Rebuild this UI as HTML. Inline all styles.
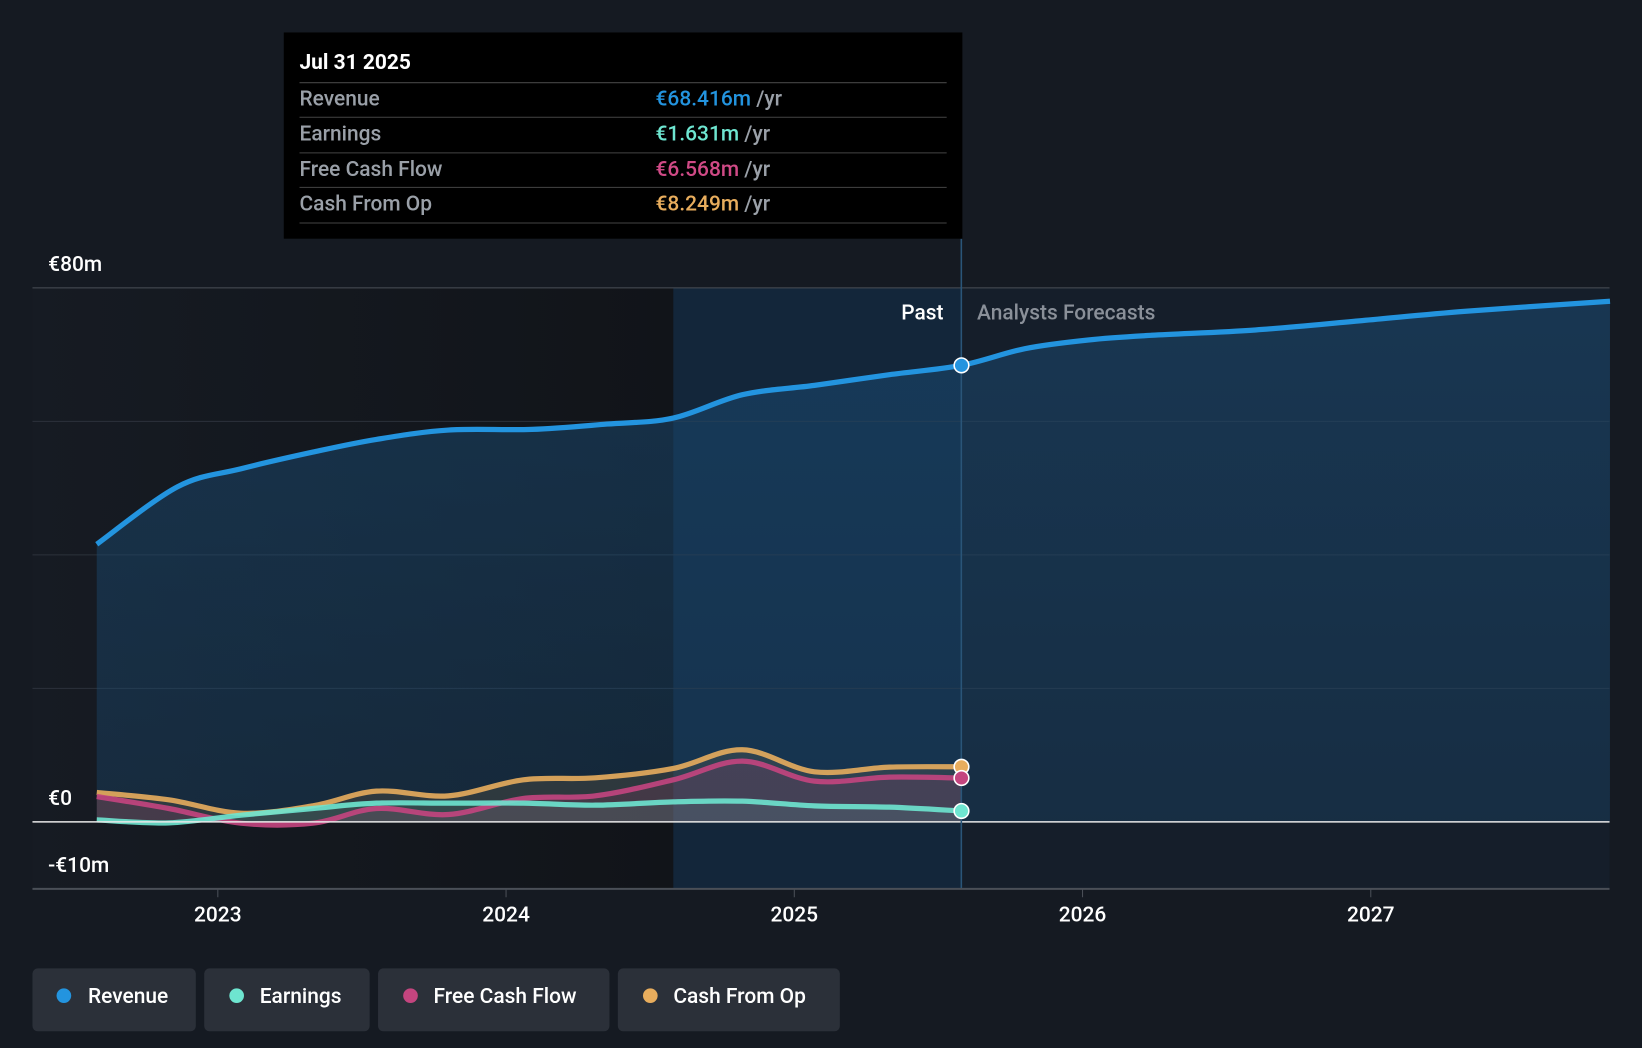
<!DOCTYPE html>
<html><head><meta charset="utf-8">
<style>
html,body{margin:0;padding:0;background:#151a22;}
svg{display:block;font-family:"Roboto","Liberation Sans",sans-serif;}
</style></head>
<body>
<svg id="chart" width="1642" height="1048" viewBox="0 0 1568 1001" preserveAspectRatio="none" xmlns="http://www.w3.org/2000/svg">
<rect x="0" y="0" width="1568" height="1001" fill="#151a22"/>
<defs>
<linearGradient id="pastBg" x1="0" x2="1" y1="0" y2="0"><stop offset="0" stop-color="#161b23"/><stop offset="1" stop-color="#111419"/></linearGradient>
<linearGradient id="revFill" x1="0" x2="0" y1="0" y2="1"><stop offset="0" stop-color="#1a4a72" stop-opacity="0.55"/><stop offset="1" stop-color="#1a4a72" stop-opacity="0.35"/></linearGradient>
</defs>
<rect x="31" y="275" width="612" height="574" fill="url(#pastBg)"/>
<rect x="643" y="275" width="275" height="574" fill="#13263a"/>
<rect x="918" y="275" width="619" height="574" fill="#151e2a"/>
<g id="grid"></g>
<g id="areas"></g>
<g id="lines"></g>
<line x1="918" y1="228" x2="918" y2="849" stroke="#2a5578" stroke-width="1.5"/>
<text x="901" y="305" fill="#ffffff" font-size="20" text-anchor="end" font-weight="500">Past</text>
<text x="933" y="305" fill="#8a9099" font-size="20" font-weight="500">Analysts Forecasts</text>
<g id="dots"></g>
<g id="xaxis"></g>
<g font-weight="500">
<rect x="271" y="31" width="648" height="197" fill="#000000"/>
<text x="286" y="66" fill="#fff" font-size="20" font-weight="bold">Jul 31 2025</text>
<line x1="286" x2="904" y1="79" y2="79" stroke="#444"/>
<text x="286" y="101" fill="#9aa0a8" font-size="20">Revenue</text>
<text x="626" y="101" fill="#2394df" font-size="20">€68.416m <tspan fill="#9aa0a8">/yr</tspan></text>
<line x1="286" x2="904" y1="112" y2="112" stroke="#444"/>
<text x="286" y="134" fill="#9aa0a8" font-size="20">Earnings</text>
<text x="626" y="134" fill="#6ee5d0" font-size="20">€1.631m <tspan fill="#9aa0a8">/yr</tspan></text>
<line x1="286" x2="904" y1="146" y2="146" stroke="#444"/>
<text x="286" y="168" fill="#9aa0a8" font-size="20">Free Cash Flow</text>
<text x="626" y="168" fill="#d04a86" font-size="20">€6.568m <tspan fill="#9aa0a8">/yr</tspan></text>
<line x1="286" x2="904" y1="179" y2="179" stroke="#444"/>
<text x="286" y="201" fill="#9aa0a8" font-size="20">Cash From Op</text>
<text x="626" y="201" fill="#e8ad5d" font-size="20">€8.249m <tspan fill="#9aa0a8">/yr</tspan></text>
<line x1="286" x2="904" y1="213" y2="213" stroke="#444"/>
</g>
<g font-weight="500">
<g><rect x="31" y="925" width="156" height="60" rx="5" fill="#2b3039"/><circle cx="61" cy="951" r="7" fill="#2394df"/><text x="84" y="958" fill="#fff" font-size="20">Revenue</text></g>
<g><rect x="195" y="925" width="158" height="60" rx="5" fill="#2b3039"/><circle cx="226" cy="951" r="7" fill="#6ee5d0"/><text x="248" y="958" fill="#fff" font-size="20">Earnings</text></g>
<g><rect x="361" y="925" width="221" height="60" rx="5" fill="#2b3039"/><circle cx="392" cy="951" r="7" fill="#c4457f"/><text x="414" y="958" fill="#fff" font-size="20">Free Cash Flow</text></g>
<g><rect x="590" y="925" width="212" height="60" rx="5" fill="#2b3039"/><circle cx="621" cy="951" r="7" fill="#e8ad5d"/><text x="643" y="958" fill="#fff" font-size="20">Cash From Op</text></g>
</g>
</svg>
<script>
const revDates=[2022.58,2022.86,2023.08,2023.33,2023.55,2023.8,2024.09,2024.35,2024.58,2024.82,2025.07,2025.33,2025.58,2025.8,2026.02,2026.24,2026.6,2026.97,2027.33,2027.83];
const revenue=[41.6,50.2,52.9,55.4,57.3,58.7,58.8,59.6,60.5,64,65.4,67,68.4,70.9,72.2,72.9,73.7,75.1,76.5,78];
const pastDates=[2022.58,2022.83,2023.08,2023.33,2023.55,2023.8,2024.06,2024.31,2024.58,2024.82,2025.07,2025.33,2025.58];
const earnings=[0.3,-0.15,1,2,2.8,2.8,2.8,2.5,3,3.1,2.4,2.2,1.63];
const fcf=[3.8,2,-0.2,-0.2,2,1.1,3.5,3.9,6.3,9.1,6.1,6.7,6.57];
const cfo=[4.4,3.3,1.3,2.4,4.6,3.9,6.3,6.6,8,10.8,7.5,8.2,8.25];
const yTicks=[-10,0,20,40,60,80];
const yLabels=["-€10m","€0","","","","€80m"];
const xTicks=[2023,2024,2025,2026,2027];
const NS="http://www.w3.org/2000/svg";
const X=d=>208+(d-2023)*275.25;
const Y=v=>785-v*6.375;
function mk(tag,attrs,parent){const e=document.createElementNS(NS,tag);for(const k in attrs)e.setAttribute(k,attrs[k]);parent.appendChild(e);return e;}
function path(xs,vs){const p=xs.map((d,i)=>[X(d),Y(vs[i])]);let s=`M${p[0][0]},${p[0][1]}`;for(let i=0;i<p.length-1;i++){const p0=p[i-1]||p[i],p1=p[i],p2=p[i+1],p3=p[i+2]||p2;const c1=[p1[0]+(p2[0]-p0[0])/6,p1[1]+(p2[1]-p0[1])/6],c2=[p2[0]-(p3[0]-p1[0])/6,p2[1]-(p3[1]-p1[1])/6];s+=`C${c1[0]},${c1[1]} ${c2[0]},${c2[1]} ${p2[0]},${p2[1]}`;}return s;}
const grid=document.getElementById('grid');
yTicks.forEach((t,i)=>{
 if(t!==0&&t!==-10){
 const l=mk('line',{x1:31,x2:1537,y1:Y(t),y2:Y(t),stroke:t===80?'#4a4f57':'#2c323b','stroke-width':1},grid);
 
 }
 if(yLabels[i]){const ly=t===-10?Y(t)-16:Y(t)-16;const tx=mk('text',{x:46,y:ly,fill:'#fff','font-size':20,'font-weight':500},grid);tx.textContent=yLabels[i];
 
 }
});
const areas=document.getElementById('areas'),lines=document.getElementById('lines'),dots=document.getElementById('dots');
const revP=path(revDates,revenue);
const a=mk('path',{d:revP+`L${X(revDates[revDates.length-1])},${Y(0)}L${X(revDates[0])},${Y(0)}Z`,fill:'url(#revFill)'},areas);


const series=[[cfo,'#e8ad5d','cash-from-op','rgba(232,173,93,0.12)'],[fcf,'#c4457f','free-cash-flow','rgba(196,69,127,0.15)'],[earnings,'#6ee5d0','earnings','rgba(110,229,208,0.1)']];
series.forEach(([vals,c,n,f])=>{const p=path(pastDates,vals);
 const ar=mk('path',{d:p+`L${X(pastDates[pastDates.length-1])},${Y(0)}L${X(pastDates[0])},${Y(0)}Z`,fill:f},areas);
 
 
 const ln=mk('path',{d:p,fill:'none',stroke:c,'stroke-width':5,'stroke-opacity':0.9},lines);
 
 });
const rl=mk('path',{d:revP,fill:'none',stroke:'#2394df','stroke-width':5},lines);


const zl=mk('line',{x1:31,x2:1537,y1:Y(0),y2:Y(0),stroke:'#e8e8e8','stroke-width':1.5},lines);


const last=pastDates.length-1;
[[revenue[12],'#2394df','revenue-dot'],[cfo[last],'#e8ad5d','cash-from-op-dot'],[fcf[last],'#c4457f','free-cash-flow-dot'],[earnings[last],'#6ee5d0','earnings-dot']].forEach(([v,c,n])=>{
 const d=mk('circle',{cx:X(pastDates[last]),cy:Y(v),r:7,fill:c,stroke:'#fff','stroke-width':1.5},dots);
 
 });
const xa=document.getElementById('xaxis');
const ax=mk('line',{x1:31,x2:1537,y1:849,y2:849,stroke:'#4a4f57','stroke-width':2},xa);


xTicks.forEach(t=>{mk('line',{x1:X(t),x2:X(t),y1:849,y2:857,stroke:'#4a4f57'},xa);
 const tx=mk('text',{x:X(t),y:880,fill:'#fff','font-size':20,'font-weight':500,'text-anchor':'middle'},xa);tx.textContent=t;
 
 });
</script>
</body></html>
